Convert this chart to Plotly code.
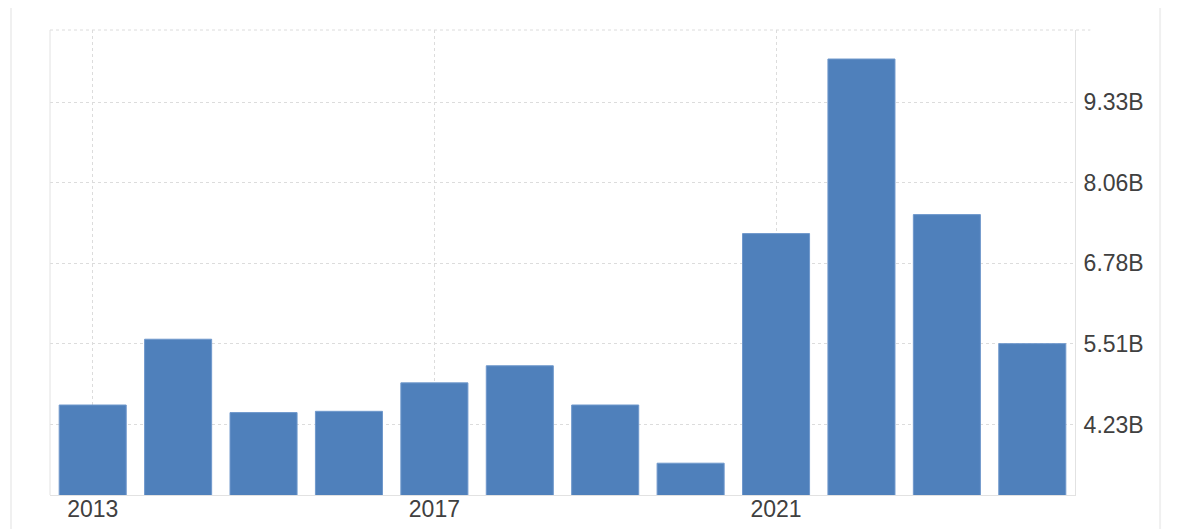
import plotly.graph_objects as go

# Годовые значения, млрд
years = [2013, 2014, 2015, 2016, 2017, 2018, 2019, 2020, 2021, 2022, 2023, 2024]
values = [4.54, 5.58, 4.42, 4.44, 4.89, 5.16, 4.54, 3.62, 7.25, 10.01, 7.55, 5.51]

y_ticks = [4.23, 5.505, 6.78, 8.055, 9.33]
y_tick_labels = ['4.23B', '5.51B', '6.78B', '8.06B', '9.33B']

BAR_COLOR = '#4f80bb'
GRID_COLOR = '#dcdcdc'
TEXT_COLOR = '#404040'

fig = go.Figure()

fig.add_trace(go.Bar(
    x=years, y=values,
    marker=dict(color=BAR_COLOR, line=dict(color='#6f98cc', width=1)),
    hovertemplate='%{x}: %{y:.2f}B<extra></extra>'
))

fig.update_xaxes(
    range=[2012.5, 2024.5],
    tickmode='linear', tick0=2013, dtick=4,
    showgrid=True, gridcolor=GRID_COLOR, griddash='dot', gridwidth=1,
    showline=True, linecolor='#e2e2e2', linewidth=1,
    ticks='', ticklabelstandoff=-7, zeroline=False,
    tickfont=dict(size=23, color=TEXT_COLOR),
)
fig.update_yaxes(
    side='right', range=[3.117, 10.469],
    tickvals=y_ticks, ticktext=y_tick_labels,
    showgrid=True, gridcolor=GRID_COLOR, griddash='dot', gridwidth=1,
    showline=True, linecolor='#e2e2e2', linewidth=1,
    ticks='outside', ticklen=3, tickcolor='rgba(0,0,0,0)',
    zeroline=False,
    tickfont=dict(size=23, color=TEXT_COLOR),
)

# Верхняя граница и рамка контейнера
fig.add_shape(type='line', xref='paper', yref='paper', x0=0, x1=1.015, y0=1, y1=1,
              line=dict(color=GRID_COLOR, width=1, dash='dot'))
fig.add_shape(type='line', xref='paper', yref='paper', x0=0, x1=0, y0=0, y1=1,
              line=dict(color='#e2e2e2', width=1))
for xp in (-0.038, 1.083):
    fig.add_shape(type='line', xref='paper', yref='paper', x0=xp, x1=xp, y0=-0.2, y1=1.2,
                  line=dict(color='#f0f0f0', width=2))

fig.update_layout(
    width=1200, height=529,
    margin=dict(l=42, r=133, t=22, b=42),
    plot_bgcolor='white', paper_bgcolor='white',
    bargap=0.215,
    showlegend=False,
    font=dict(family='Liberation Sans, Arial, sans-serif', color=TEXT_COLOR),
)

fig.write_html("out.html")
